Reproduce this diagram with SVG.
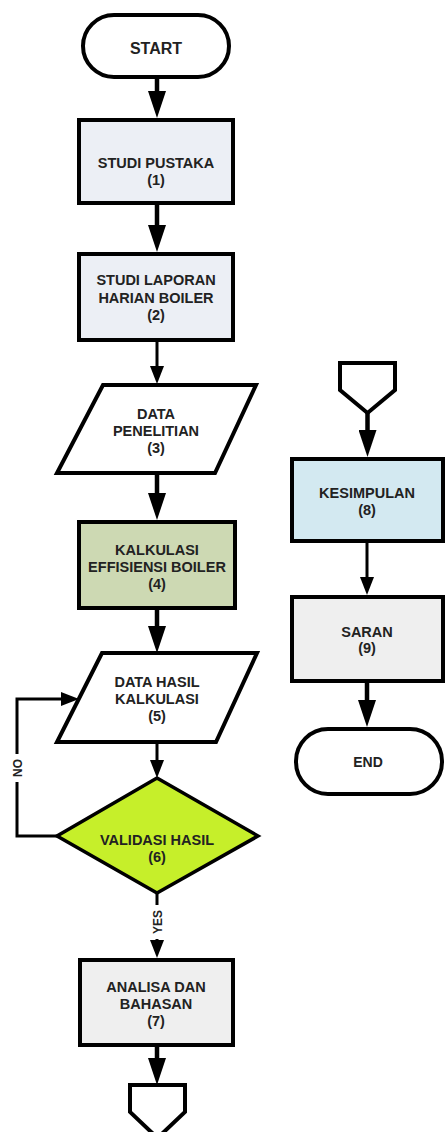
<svg xmlns="http://www.w3.org/2000/svg" width="445" height="1132" viewBox="0 0 445 1132">
<style>
.shape{stroke:#000;stroke-width:4;stroke-linejoin:miter}
.t{font-family:"Liberation Sans",Arial,sans-serif;font-weight:bold;font-size:14.5px;fill:#222;text-anchor:middle}
.lbl{font-family:"Liberation Sans",Arial,sans-serif;font-weight:bold;font-size:12px;fill:#222;text-anchor:middle}
.thick{stroke:#000;stroke-width:4.5;fill:none}
.thin{stroke:#000;stroke-width:3;fill:none}
</style>
<defs>
<marker id="big" markerUnits="userSpaceOnUse" markerWidth="27" markerHeight="18" viewBox="0 0 27 18" refX="0" refY="9" orient="auto">
<path d="M0,0 L27,9 L0,18 z" fill="#000"/>
</marker>
<marker id="small" markerUnits="userSpaceOnUse" markerWidth="18" markerHeight="14" viewBox="0 0 18 14" refX="0" refY="7" orient="auto">
<path d="M0,0 L18,7 L0,14 z" fill="#000"/>
</marker>
</defs>
<rect width="445" height="1132" fill="#fff"/>

<g id="connectors">
<path class="thick" d="M157,77 V91" marker-end="url(#big)"/>
<path class="thick" d="M157,205 V225" marker-end="url(#big)"/>
<path class="thin" d="M157,342 V366" marker-end="url(#small)"/>
<path class="thick" d="M157,473 V493" marker-end="url(#big)"/>
<path class="thick" d="M157,610 V626" marker-end="url(#big)"/>
<path class="thin" d="M157,742 V760" marker-end="url(#small)"/>
<path class="thin" d="M157,893 V940" marker-end="url(#small)"/>
<path class="thin" d="M57,836 H17 V699 H61" marker-end="url(#small)"/>
<path class="thick" d="M157,1047 V1058" marker-end="url(#big)"/>
<path class="thick" d="M367.5,413 V430" marker-end="url(#big)"/>
<path class="thin" d="M367,543 V577" marker-end="url(#small)"/>
<path class="thick" d="M367,683 V700" marker-end="url(#big)"/>
<rect x="10" y="754" width="14" height="28" fill="#fff"/>
<text class="lbl" transform="translate(21.5,768) rotate(-90)">NO</text>
<rect x="150" y="905" width="14" height="34" fill="#fff"/>
<text class="lbl" transform="translate(161.5,922) rotate(-90)">YES</text>
</g>

<g id="start">
<rect class="shape" x="83" y="15" width="146" height="62" rx="31" fill="#fff"/>
<text class="t" x="156" y="54" style="font-size:16px">START</text>
</g>

<g id="n1">
<rect class="shape" x="79" y="120" width="154" height="83" fill="#eceff5"/>
<text class="t" x="156" y="168">STUDI PUSTAKA</text>
<text class="t" x="156" y="185">(1)</text>
</g>

<g id="n2">
<rect class="shape" x="79" y="254" width="154" height="86" fill="#eceff5"/>
<text class="t" x="156" y="285">STUDI LAPORAN</text>
<text class="t" x="156" y="303">HARIAN BOILER</text>
<text class="t" x="156" y="320">(2)</text>
</g>

<g id="n3">
<polygon class="shape" points="103,385 256,385 215,473 57,473" fill="#fff"/>
<text class="t" x="156" y="419">DATA</text>
<text class="t" x="156" y="436">PENELITIAN</text>
<text class="t" x="156" y="453">(3)</text>
</g>

<g id="n4">
<rect class="shape" x="79" y="522" width="156" height="86" fill="#cdd9b3"/>
<text class="t" x="157" y="555">KALKULASI</text>
<text class="t" x="157" y="572">EFFISIENSI BOILER</text>
<text class="t" x="157" y="589">(4)</text>
</g>

<g id="n5">
<polygon class="shape" points="102,653 257,653 216,742 57,742" fill="#fff"/>
<text class="t" x="157" y="687">DATA HASIL</text>
<text class="t" x="157" y="704">KALKULASI</text>
<text class="t" x="157" y="721">(5)</text>
</g>

<g id="n6">
<polygon class="shape" points="157,778 258,836 157,893 57,836" fill="#c6ef2a" style="stroke-width:3.5"/>
<text class="t" x="157" y="845">VALIDASI HASIL</text>
<text class="t" x="157" y="862">(6)</text>
</g>

<g id="n7">
<rect class="shape" x="80" y="960" width="153" height="85" fill="#efefef"/>
<text class="t" x="156" y="992">ANALISA DAN</text>
<text class="t" x="156" y="1009">BAHASAN</text>
<text class="t" x="156" y="1026">(7)</text>
</g>

<g id="offpage1">
<polygon class="shape" points="130,1085 185,1085 185,1112 157.5,1138 130,1112" fill="#fff"/>
</g>

<g id="offpage2">
<polygon class="shape" points="340,363 395,363 395,390 367.5,413 340,390" fill="#fff"/>
</g>

<g id="n8">
<rect class="shape" x="292" y="459" width="151" height="82" fill="#d3e9f1"/>
<text class="t" x="367" y="498">KESIMPULAN</text>
<text class="t" x="367" y="515">(8)</text>
</g>

<g id="n9">
<rect class="shape" x="292" y="597" width="151" height="84" fill="#efefef"/>
<text class="t" x="367" y="637">SARAN</text>
<text class="t" x="367" y="653">(9)</text>
</g>

<g id="end">
<rect class="shape" x="296" y="729" width="146" height="65" rx="32" fill="#fff"/>
<text class="t" x="368" y="767" style="font-size:14px">END</text>
</g>
</svg>
